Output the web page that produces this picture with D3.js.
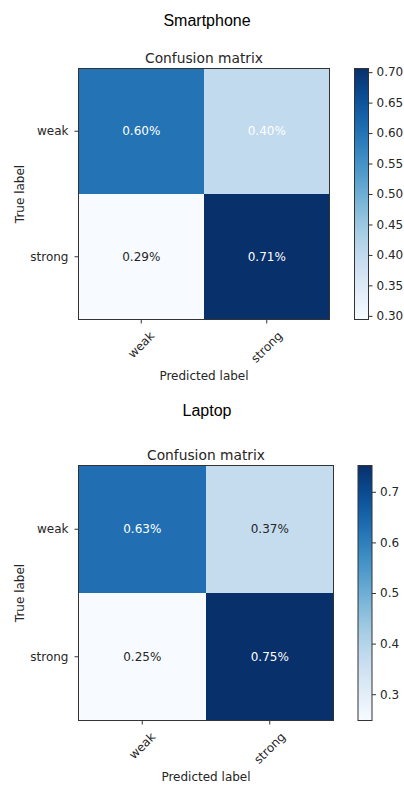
<!DOCTYPE html>
<html>
<head>
<meta charset="utf-8">
<script src="https://cdn.jsdelivr.net/npm/d3@7"></script>
<style>
  body { margin: 0; background: #fff; }
  text { font-family: "DejaVu Sans", sans-serif; fill: #262626; }
</style>
</head>
<body>
<div id="chart"></div>
<script>
// data
var classes = ["weak", "strong"];
var titles = ["Smartphone", "Laptop"];
var smartphone = [[0.60, 0.40], [0.294, 0.706]];
var laptop = [[0.63, 0.37], [0.248, 0.752]];
var smartTicks = [0.30, 0.35, 0.40, 0.45, 0.50, 0.55, 0.60, 0.65, 0.70];
var laptopTicks = [0.3, 0.4, 0.5, 0.6, 0.7];

var svg = d3.select("#chart").append("svg")
    .attr("width", 404)
    .attr("height", 787);
var defs = svg.append("defs");

var panels = [
  {title: titles[0], cm: smartphone, ticks: smartTicks, fmt: ".2f",
   top: 68.5, left: 78.5, size: 251, cbX: 354.5, titleY: 26},
  {title: titles[1], cm: laptop, ticks: laptopTicks, fmt: ".1f",
   top: 465.5, left: 78.5, size: 255, cbX: 358, titleY: 416}
];

panels.forEach(function(p, k) {
  var flat = [];
  p.cm.forEach(function(row, i) {
    row.forEach(function(v, j) { flat.push({i: i, j: j, v: v}); });
  });
  var vmin = d3.min(flat, function(d) { return d.v; }),
      vmax = d3.max(flat, function(d) { return d.v; });
  var thresh = vmax / 2;

  var color = d3.scaleSequential(d3.interpolateBlues).domain([vmin, vmax]);

  var x = d3.scaleBand().domain(classes).range([0, p.size]),
      y = d3.scaleBand().domain(classes).range([0, p.size]);

  // figure title
  svg.append("text")
      .attr("x", 207)
      .attr("y", p.titleY)
      .attr("text-anchor", "middle")
      .style("font-family", "'Liberation Sans', Arial, sans-serif")
      .style("font-size", "16px")
      .style("fill", "#000")
      .text(p.title);

  var g = svg.append("g")
      .attr("transform", "translate(" + p.left + "," + p.top + ")");

  g.append("text")
      .attr("x", p.size / 2)
      .attr("y", -6)
      .attr("text-anchor", "middle")
      .style("font-size", "13.8px")
      .text("Confusion matrix");

  g.selectAll(".cell")
    .data(flat)
    .enter().append("rect")
      .attr("class", "cell")
      .attr("x", function(d) { return x(classes[d.j]); })
      .attr("y", function(d) { return y(classes[d.i]); })
      .attr("width", x.bandwidth())
      .attr("height", y.bandwidth())
      .attr("fill", function(d) { return color(d.v); });

  g.selectAll(".val")
    .data(flat)
    .enter().append("text")
      .attr("class", "val")
      .attr("x", function(d) { return x(classes[d.j]) + x.bandwidth() / 2; })
      .attr("y", function(d) { return y(classes[d.i]) + y.bandwidth() / 2; })
      .attr("text-anchor", "middle")
      .attr("dy", "0.35em")
      .style("font-size", "12px")
      .style("fill", function(d) { return d.v > thresh ? "#fff" : "#262626"; })
      .text(function(d) { return d3.format(".2f")(d.v) + "%"; });

  g.append("rect")
      .attr("width", p.size)
      .attr("height", p.size)
      .attr("fill", "none")
      .attr("stroke", "#333")
      .attr("stroke-width", 1);

  // y axis
  var yAx = g.append("g")
      .call(d3.axisLeft(y).tickSize(4).tickPadding(6));
  yAx.select(".domain").remove();
  yAx.selectAll("line").attr("stroke", "#333");
  yAx.selectAll("text").style("font-size", "12px").attr("fill", null);

  // x axis
  var xAx = g.append("g")
      .attr("transform", "translate(0," + p.size + ")")
      .call(d3.axisBottom(x).tickSize(4).tickFormat(""));
  xAx.select(".domain").remove();
  xAx.selectAll("line").attr("stroke", "#333");

  classes.forEach(function(c) {
    var t = g.append("text")
        .style("font-size", "12px")
        .attr("text-anchor", "middle")
        .attr("dominant-baseline", "central")
        .text(c);
    var w = t.node().getComputedTextLength();
    var h = 12;
    var cx = x(c) + x.bandwidth() / 2,
        cy = p.size + 10 + (w + h) * Math.SQRT1_2 / 2;
    t.attr("transform", "translate(" + cx + "," + cy + ") rotate(-45)");
  });

  g.append("text")
      .attr("x", p.size / 2)
      .attr("y", p.size + 60)
      .attr("text-anchor", "middle")
      .style("font-size", "12px")
      .text("Predicted label");

  g.append("text")
      .attr("transform", "translate(" + (-55) + "," + (p.size / 2) + ") rotate(-90)")
      .attr("text-anchor", "middle")
      .style("font-size", "12px")
      .text("True label");

  // colorbar
  var cbW = 14;
  var grad = defs.append("linearGradient")
      .attr("id", "cbgrad" + k)
      .attr("x1", 0).attr("y1", 1).attr("x2", 0).attr("y2", 0);
  grad.selectAll("stop")
    .data(d3.range(0, 1.0001, 0.05))
    .enter().append("stop")
      .attr("offset", function(t) { return t; })
      .attr("stop-color", function(t) { return d3.interpolateBlues(t); });

  var cb = svg.append("g")
      .attr("transform", "translate(" + p.cbX + "," + p.top + ")");
  var cy = d3.scaleLinear().domain([vmin, vmax]).range([p.size, 0]);
  cb.append("rect")
      .attr("width", cbW)
      .attr("height", p.size)
      .attr("fill", "url(#cbgrad" + k + ")")
      .attr("stroke", "#333");
  var cAx = cb.append("g")
      .attr("transform", "translate(" + cbW + ",0)")
      .call(d3.axisRight(cy).tickValues(p.ticks).tickFormat(d3.format(p.fmt)).tickSize(4).tickPadding(4));
  cAx.select(".domain").remove();
  cAx.selectAll("line").attr("stroke", "#333");
  cAx.selectAll("text").style("font-size", "12px").attr("fill", null);
});
</script>
</body>
</html>
